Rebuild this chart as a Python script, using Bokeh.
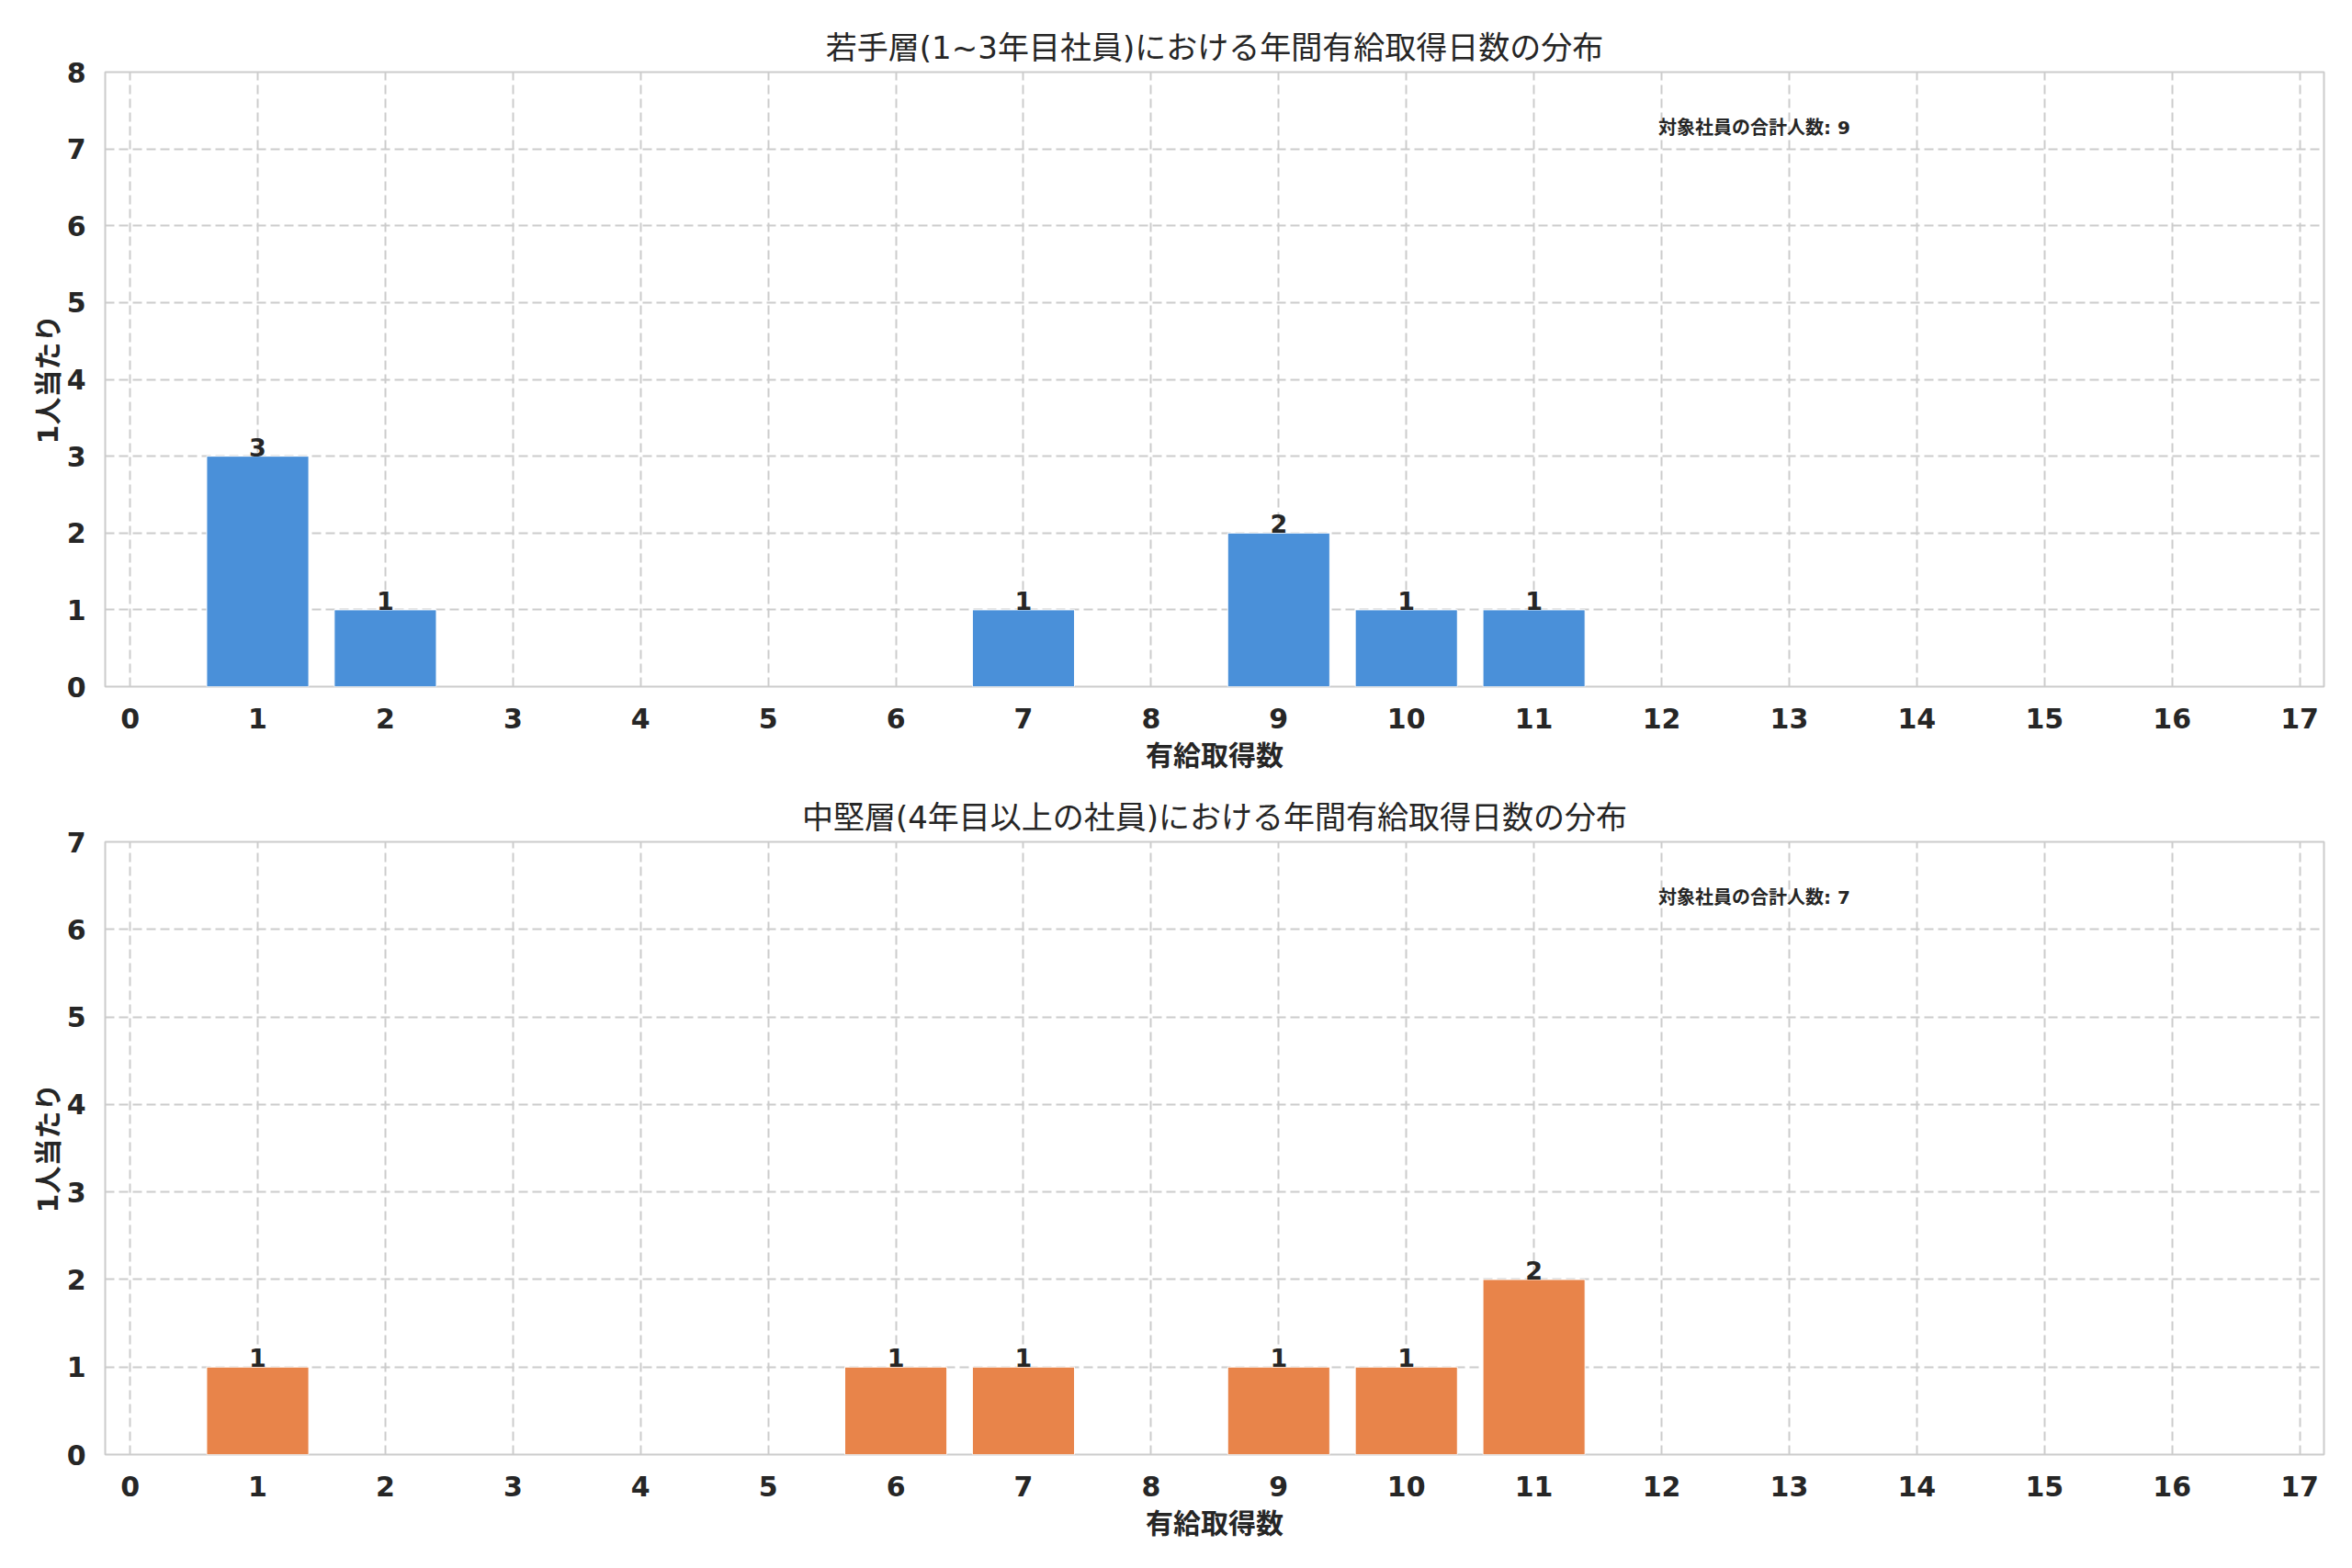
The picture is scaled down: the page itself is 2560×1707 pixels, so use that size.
from bokeh.plotting import figure
from bokeh.models import Range1d, FixedTicker, ColumnDataSource
from bokeh.layouts import column
from bokeh.core.properties import value
from bokeh.embed import file_html
from bokeh.resources import INLINE

# ---- data ----
titles = ["若手層(1~3年目社員)における年間有給取得日数の分布",
          "中堅層(4年目以上の社員)における年間有給取得日数の分布"]
x_label = "有給取得数"
y_label = "1人当たり"
note_label = "対象社員の合計人数"
ticks = list(range(0, 18))

g1_x = [1, 2, 7, 9, 10, 11]
g1_count = [3, 1, 1, 2, 1, 1]
g2_x = [1, 6, 7, 9, 10, 11]
g2_count = [1, 1, 1, 1, 1, 2]
y_max = [8, 7]
colors = ["#4A90D9", "#E8844A"]

FONT = "'DejaVu Sans', 'Noto Sans CJK JP', sans-serif"
TXT = "#262626"


def make_plot(title, xs, counts, ymax, color, heights):
    h, top, bottom = heights
    p = figure(width=2544, height=h,
               x_range=Range1d(-0.195, 17.19), y_range=Range1d(0, ymax),
               output_backend="svg", toolbar_location=None,
               min_border_left=114, min_border_right=15,
               min_border_top=top, min_border_bottom=bottom)
    p.title.text = title
    p.title.align = "center"
    p.title.text_font = FONT
    p.title.text_font_size = "34px"
    p.title.text_font_style = "normal"
    p.title.text_color = TXT
    p.title.standoff = 13

    p.outline_line_color = "#cccccc"
    p.outline_line_width = 2
    p.background_fill_color = "white"
    p.border_fill_color = "white"

    for ax in (p.xaxis, p.yaxis):
        ax.axis_line_color = None
        ax.major_tick_line_color = None
        ax.minor_tick_line_color = None
        ax.major_label_text_font = FONT
        ax.major_label_text_font_size = "30px"
        ax.major_label_text_font_style = "bold"
        ax.major_label_text_color = TXT
        ax.axis_label_text_font = FONT
        ax.axis_label_text_font_size = "30px"
        ax.axis_label_text_font_style = "bold"
        ax.axis_label_text_color = TXT
    p.xaxis.ticker = FixedTicker(ticks=ticks)
    p.yaxis.ticker = FixedTicker(ticks=list(range(0, ymax + 1)))
    p.xaxis.major_label_standoff = 17
    p.yaxis.major_label_standoff = 15
    p.xaxis.axis_label = x_label
    p.yaxis.axis_label = y_label
    p.xaxis.axis_label_standoff = 9
    p.yaxis.axis_label_standoff = 0

    p.xgrid.ticker = FixedTicker(ticks=ticks)
    for g in (p.xgrid, p.ygrid):
        g.grid_line_color = "#cccccc"
        g.grid_line_width = 2
        g.grid_line_dash = "10 5"

    src = ColumnDataSource(dict(x=xs, top=counts, lab=[str(c) for c in counts]))
    p.vbar(x="x", top="top", width=0.8, bottom=0, source=src,
           fill_color=color, line_color="white", line_width=1)
    p.text(x="x", y="top", text="lab", source=src,
           text_align="center", text_baseline="bottom",
           text_font=value(FONT), text_font_size="27px",
           text_font_style="bold", text_color=TXT)

    xr = p.x_range
    nx = xr.start + 0.70 * (xr.end - xr.start)
    ny = 0.91 * ymax
    p.text(x=[nx], y=[ny], text=[f"{note_label}: {sum(counts)}"],
           text_align="left", text_baseline="middle",
           text_font=value(FONT), text_font_size="20px",
           text_font_style="bold", text_color=TXT)
    return p


p1 = make_plot(titles[0], g1_x, g1_count, y_max[0], colors[0], (847, 78, 100))
p2 = make_plot(titles[1], g2_x, g2_count, y_max[1], colors[1], (836, 69, 100))

layout = column(p1, p2, spacing=0)
open("out.html", "w").write(file_html(layout, INLINE))
